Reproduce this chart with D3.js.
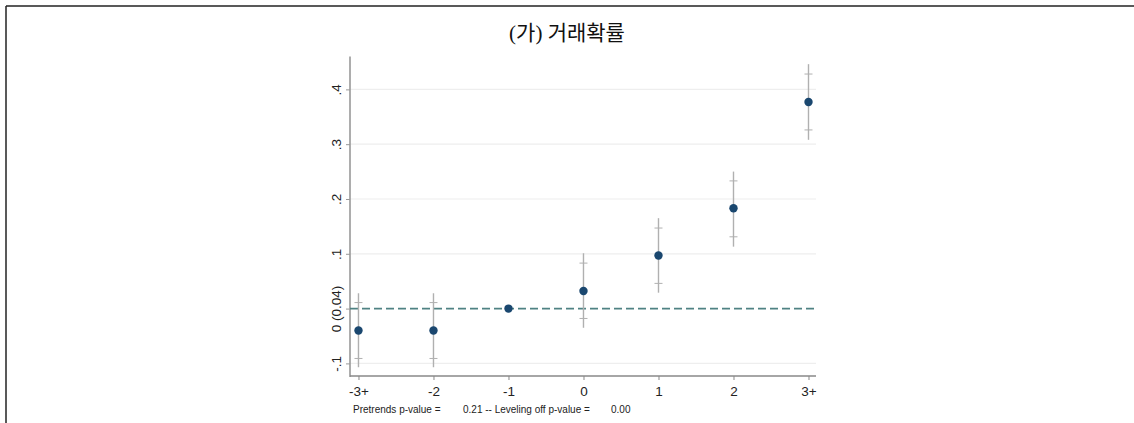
<!DOCTYPE html>
<html>
<head>
<meta charset="utf-8">
<script src="https://cdn.jsdelivr.net/npm/d3@7"></script>
<style>
  html, body { margin: 0; padding: 0; background: #fff; }
  svg { display: block; }
</style>
</head>
<body>
<svg id="chart" width="1134" height="423"></svg>
<script>
// Event-study estimates by period relative to the event
const periods = [-3, -2, -1, 0, 1, 2, 3];
const periodLabels = ["-3+", "-2", "-1", "0", "1", "2", "3+"];
const estimates = [-0.040, -0.040, 0.000, 0.032, 0.097, 0.183, 0.377];
// wide confidence band (drawn as the vertical line)
const ciLow  = [-0.107, -0.107, null, -0.035, 0.029, 0.113, 0.308];
const ciHigh = [ 0.028,  0.028, null,  0.101, 0.165, 0.250, 0.446];
// narrow confidence band (drawn as small cross marks)
const ci90Low  = [-0.091, -0.091, null, -0.018, 0.046, 0.131, 0.326];
const ci90High = [ 0.011,  0.011, null,  0.083, 0.147, 0.233, 0.428];

const yTicks = [-0.1, 0, 0.1, 0.2, 0.3, 0.4];
const yTickLabels = ["-.1", "0 (0.04)", ".1", ".2", ".3", ".4"];
const title = "(가) 거래확률";
const footnote = ["Pretrends p-value =", "0.21 -- Leveling off p-value =", "0.00"];

const svg = d3.select("#chart");
const W = 1134, H = 423;

// outer frame: top and left rules
svg.append("line").attr("x1", 6).attr("x2", W).attr("y1", 6).attr("y2", 6)
  .attr("stroke", "#222").attr("stroke-width", 1.5);
svg.append("line").attr("x1", 6).attr("x2", 6).attr("y1", 6).attr("y2", H)
  .attr("stroke", "#222").attr("stroke-width", 1.5);

svg.append("text")
  .attr("x", 567).attr("y", 40)
  .attr("text-anchor", "middle")
  .attr("font-family", "'Liberation Serif', 'Noto Sans CJK KR', serif")
  .attr("font-size", 21)
  .attr("fill", "#111")
  .text(title);

const plotL = 350, plotR = 816, plotT = 56.5, plotB = 376;
const x = d3.scaleLinear().domain([-3.113, 3.1]).range([plotL, plotR]);
const y = d3.scaleLinear().domain([-0.123, 0.46]).range([plotB, plotT]);

const tickFont = "'Liberation Sans', Arial, sans-serif";

// horizontal gridlines
svg.append("g").selectAll("line")
  .data(yTicks.filter(t => t !== 0))
  .join("line")
  .attr("x1", plotL).attr("x2", plotR)
  .attr("y1", d => y(d)).attr("y2", d => y(d))
  .attr("stroke", "#eeeeee").attr("stroke-width", 1.2);

// y axis
const yAxis = svg.append("g")
  .attr("transform", `translate(${plotL},0)`)
  .call(d3.axisLeft(y).tickValues(yTicks).tickSize(4).tickPadding(0)
    .tickFormat((d, i) => yTickLabels[i]));
yAxis.select(".domain").remove();
yAxis.append("line").attr("x1", 0).attr("x2", 0).attr("y1", plotT).attr("y2", plotB + 1)
  .attr("stroke", "#999").attr("stroke-width", 1.6);
yAxis.selectAll(".tick line").attr("stroke", "#999").attr("stroke-width", 1);
yAxis.selectAll(".tick text")
  .attr("x", 0).attr("dy", 0)
  .attr("transform", "translate(-9,0) rotate(-90)")
  .attr("text-anchor", "middle")
  .attr("font-family", tickFont).attr("font-size", 13.5).attr("fill", "#222");

// x axis
const xAxis = svg.append("g")
  .attr("transform", `translate(0,${plotB})`)
  .call(d3.axisBottom(x).tickValues(periods).tickSize(4).tickPadding(6)
    .tickFormat((d, i) => periodLabels[i]));
xAxis.select(".domain").remove();
xAxis.append("line").attr("x1", plotL).attr("x2", plotR).attr("y1", 0).attr("y2", 0)
  .attr("stroke", "#888").attr("stroke-width", 1.6);
xAxis.selectAll(".tick line").attr("stroke", "#888").attr("stroke-width", 1);
xAxis.selectAll(".tick text")
  .attr("font-family", tickFont).attr("font-size", 13.5).attr("fill", "#222");

// reference line at zero
svg.append("line")
  .attr("x1", plotL).attr("x2", plotR + 2)
  .attr("y1", y(0)).attr("y2", y(0))
  .attr("stroke", "#4f8283").attr("stroke-width", 1.6)
  .attr("stroke-dasharray", "8,4");

const rows = periods.map((p, i) => ({
  p, est: estimates[i], lo: ciLow[i], hi: ciHigh[i], lo90: ci90Low[i], hi90: ci90High[i]
}));
const withCI = rows.filter(r => r.lo !== null);

// confidence intervals
svg.append("g").selectAll("line")
  .data(withCI).join("line")
  .attr("x1", d => x(d.p)).attr("x2", d => x(d.p))
  .attr("y1", d => y(d.lo)).attr("y2", d => y(d.hi))
  .attr("stroke", "#b0b0b0").attr("stroke-width", 1.4);

const crosses = withCI.flatMap(d => [{ p: d.p, v: d.lo90 }, { p: d.p, v: d.hi90 }]);
svg.append("g").selectAll("line")
  .data(crosses).join("line")
  .attr("x1", d => x(d.p) - 4).attr("x2", d => x(d.p) + 4)
  .attr("y1", d => y(d.v)).attr("y2", d => y(d.v))
  .attr("stroke", "#b0b0b0").attr("stroke-width", 1);

// point estimates
svg.append("g").selectAll("circle")
  .data(rows).join("circle")
  .attr("cx", d => x(d.p)).attr("cy", d => y(d.est))
  .attr("r", 4.2)
  .attr("fill", "#1a476f");

// footnote
const foot = svg.append("text")
  .attr("y", 413)
  .attr("font-family", tickFont).attr("font-size", 10).attr("fill", "#222");
foot.append("tspan").attr("x", 353).text(footnote[0]);
foot.append("tspan").attr("x", 463).text(footnote[1]);
foot.append("tspan").attr("x", 611).text(footnote[2]);
</script>
</body>
</html>
